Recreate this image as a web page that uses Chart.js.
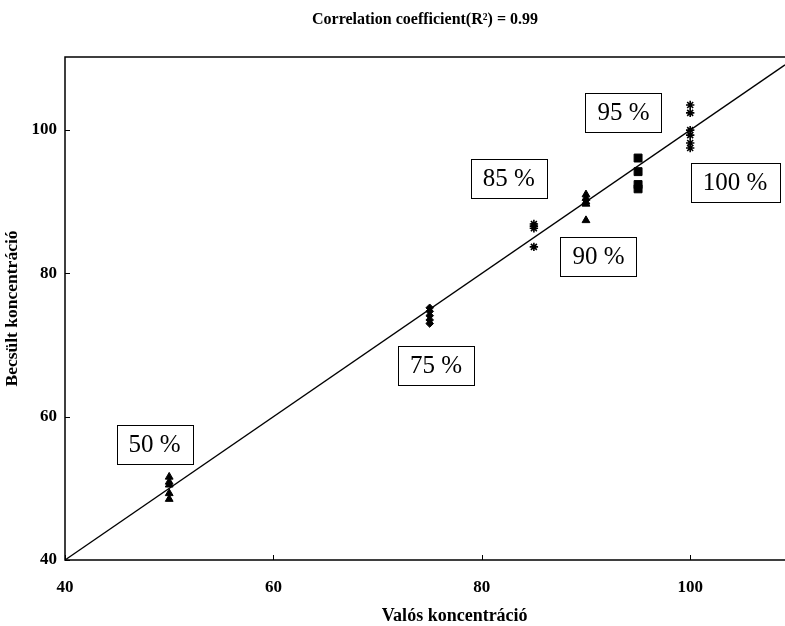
<!DOCTYPE html>
<html>
<head>
<meta charset="utf-8">
<script src="https://cdn.jsdelivr.net/npm/chart.js@4/dist/chart.umd.min.js"></script>
<style>
  html, body { margin: 0; padding: 0; background: #fff; }
  canvas { display: block; }
</style>
</head>
<body>
<canvas id="c" width="785" height="626"></canvas>
<script>
// Concentration levels (%) and estimated concentrations measured at each level
const levels = [50, 75, 85, 90, 95, 100];
const est50  = [51.6, 50.9, 50.5, 49.3, 48.5];
const est75  = [75.2, 74.7, 74.1, 73.5, 73.0];
const est85  = [86.9, 86.6, 86.3, 83.7];
const est90  = [91.0, 90.5, 90.0, 89.7, 87.4];
const est95  = [96.1, 94.2, 92.4, 91.8];
const est100 = [103.5, 102.4, 100.0, 99.3, 98.2, 97.5];

// Ideal fit line (estimated = actual)
const fitX = [40, 109.1];
const fitY = [40, 109.1];

// Axis ranges and tick values
const xRange = [40, 109.1];
const yRange = [40, 110.2];
const xTicks = [40, 60, 80, 100];
const yTicks = [40, 60, 80, 100];

const levelLabels = ['50 %', '75 %', '85 %', '90 %', '95 %', '100 %'];
const titleText = 'Correlation coefficient(R\u00B2) = 0.99';
const xTitle = 'Valós koncentráció';
const yTitle = 'Becsült koncentráció';

// Where each level's boxed label sits, in axis units
const labelAnchors = [
  { x: 48.6, y: 56.1 },
  { x: 75.6, y: 67.2 },
  { x: 82.6, y: 93.3 },
  { x: 91.2, y: 82.4 },
  { x: 93.6, y: 102.5 },
  { x: 104.3, y: 92.7 }
];

const SERIF = "'Liberation Serif', 'Times New Roman', serif";

const groups = [est50, est75, est85, est90, est95, est100];
const markerStyles = [
  { style: 'triangle', r: 4.5, w: 1 },
  { style: 'rectRot', r: 3.8, w: 1 },
  { style: 'star', r: 4.2, w: 1.6 },
  { style: 'triangle', r: 4.5, w: 1 },
  { style: 'rect', r: 5.6, w: 1 },
  { style: 'star', r: 4.2, w: 1.6 }
];

const datasets = groups.map((vals, i) => ({
  label: levelLabels[i],
  data: vals.map(v => ({ x: levels[i], y: v })),
  pointStyle: markerStyles[i].style,
  pointRadius: markerStyles[i].r,
  backgroundColor: '#000',
  borderColor: '#000',
  borderWidth: markerStyles[i].w,
  showLine: false
}));

datasets.push({
  label: 'fit',
  data: fitX.map((x, i) => ({ x: x, y: fitY[i] })),
  showLine: true,
  borderColor: '#000',
  borderWidth: 1.3,
  pointRadius: 0,
  fill: false
});

// Frame, inward tick marks, titles and boxed level labels
const decorations = {
  id: 'decorations',
  afterDatasetsDraw(chart) {
    const ctx = chart.ctx;
    const a = chart.chartArea;
    const xs = chart.scales.x, ys = chart.scales.y;
    ctx.save();
    ctx.strokeStyle = '#000';
    ctx.lineWidth = 1.5;
    ctx.beginPath();
    ctx.moveTo(a.right, a.top);
    ctx.lineTo(a.left, a.top);
    ctx.lineTo(a.left, a.bottom);
    ctx.lineTo(a.right, a.bottom);
    ctx.stroke();

    ctx.lineWidth = 1;
    ctx.beginPath();
    xTicks.forEach(v => {
      const px = Math.round(xs.getPixelForValue(v)) + 0.5;
      ctx.moveTo(px, a.bottom);
      ctx.lineTo(px, a.bottom - 5);
    });
    yTicks.forEach(v => {
      const py = Math.round(ys.getPixelForValue(v)) + 0.5;
      ctx.moveTo(a.left, py);
      ctx.lineTo(a.left + 5, py);
    });
    ctx.stroke();

    ctx.fillStyle = '#000';
    ctx.textAlign = 'center';
    ctx.textBaseline = 'middle';

    // chart title
    ctx.font = 'bold 16px ' + SERIF;
    ctx.fillText(titleText, (a.left + a.right) / 2, 20);

    // x axis title
    ctx.font = 'bold 18px ' + SERIF;
    ctx.fillText(xTitle, xs.getPixelForValue(77.4), 616);

    // boxed level labels
    ctx.font = '25px ' + SERIF;
    levelLabels.forEach((txt, i) => {
      const cx = xs.getPixelForValue(labelAnchors[i].x);
      const cy = ys.getPixelForValue(labelAnchors[i].y);
      const w = ctx.measureText(txt).width + 24;
      const h = 39;
      ctx.fillStyle = '#fff';
      ctx.fillRect(cx - w / 2, cy - h / 2, w, h);
      ctx.strokeStyle = '#000';
      ctx.lineWidth = 1;
      ctx.strokeRect(Math.round(cx - w / 2) + 0.5, Math.round(cy - h / 2) + 0.5, Math.round(w), h);
      ctx.fillStyle = '#000';
      ctx.fillText(txt, cx, cy + 1);
    });
    ctx.restore();
  }
};

new Chart(document.getElementById('c'), {
  type: 'scatter',
  data: { datasets: datasets },
  options: {
    responsive: false,
    animation: false,
    layout: { autoPadding: false, padding: { top: 57, right: 0, bottom: 0, left: 0 } },
    plugins: {
      legend: { display: false },
      tooltip: { enabled: false },
      title: { display: false }
    },
    scales: {
      x: {
        type: 'linear',
        min: xRange[0],
        max: xRange[1],
        afterFit(scale) {
          scale.height = 66;
          scale.paddingLeft = 0;
          scale.paddingRight = 0;
        },
        afterBuildTicks(scale) { scale.ticks = xTicks.map(v => ({ value: v })); },
        border: { display: false },
        grid: { display: false, drawTicks: false },
        ticks: {
          padding: 17,
          color: '#000',
          font: { family: SERIF, size: 17, weight: 'bold' }
        },
        title: { display: false }
      },
      y: {
        type: 'linear',
        min: yRange[0],
        max: yRange[1],
        afterFit(scale) {
          scale.width = 65;
          scale.paddingTop = 0;
          scale.paddingBottom = 0;
        },
        afterBuildTicks(scale) { scale.ticks = yTicks.map(v => ({ value: v })); },
        border: { display: false },
        grid: { display: false, drawTicks: false },
        ticks: {
          padding: 8,
          color: '#000',
          font: { family: SERIF, size: 17, weight: 'bold' }
        },
        title: {
          display: true,
          text: yTitle,
          color: '#000',
          padding: { top: 2, bottom: 0 },
          font: { family: SERIF, size: 17.5, weight: 'bold' }
        }
      }
    }
  },
  plugins: [decorations]
});
</script>
</body>
</html>
